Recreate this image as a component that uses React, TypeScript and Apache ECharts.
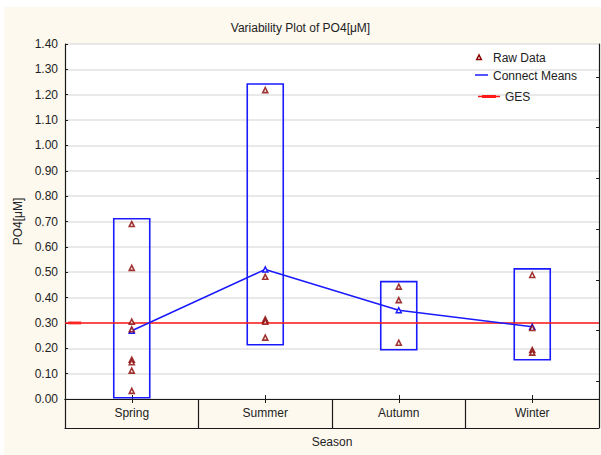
import React, { useEffect, useRef } from "react";
import * as echarts from "echarts";

const seasons = ["Spring", "Summer", "Autumn", "Winter"];
const springRaw = [0.69, 0.517, 0.305, 0.275, 0.155, 0.145, 0.112, 0.032];
const summerRaw = [1.218, 0.482, 0.314, 0.305, 0.242];
const autumnRaw = [0.443, 0.39, 0.222];
const winterRaw = [0.489, 0.28, 0.193, 0.183];
const seasonMeans = [0.269, 0.511, 0.35, 0.285];
const boxLow = [0.005, 0.214, 0.194, 0.155];
const boxHigh = [0.711, 1.242, 0.463, 0.513];
const gesValue = 0.3;
const rightTickValues = [0.07, 0.27, 0.47, 0.67, 0.87, 1.07, 1.27];

const FONT = 'Arial, "Liberation Sans", sans-serif';
const TXT = "#222";
const BLUE = "#1a1aff";
const RED = "#ff1a1a";
const DARKRED = "#8b0000";
const AXIS = "#1a1a1a";

export default function App() {
  const ref = useRef<HTMLDivElement>(null);
  useEffect(() => {
    if (!ref.current) return;
    const chart = echarts.init(ref.current, null, { renderer: "svg" });
    const raw = [springRaw, summerRaw, autumnRaw, winterRaw];
    const rawPts = raw.flatMap((arr, i) => arr.map((v) => [i, v]));
    const boxData = seasons.map((_, i) => [i, boxLow[i], boxHigh[i]]);

    chart.setOption({
      animation: false,
      title: {
        text: "Variability Plot of PO4[μM]",
        left: "center",
        top: 17,
        textStyle: { fontSize: 12, fontWeight: "normal", color: TXT, fontFamily: FONT },
      },
      grid: {
        left: 65,
        top: 44,
        right: 2,
        bottom: 56,
        show: true,
        backgroundColor: "#ffffff",
        borderWidth: 0,
      },
      xAxis: [
        {
          type: "category",
          data: seasons,
          position: "bottom",
          axisLine: { show: true, lineStyle: { color: AXIS, width: 1.2 } },
          axisTick: { show: true, alignWithLabel: false, interval: 0, length: 29, lineStyle: { color: AXIS, width: 1.2 } },
          axisLabel: { fontSize: 12, color: TXT, fontFamily: FONT, margin: 8 },
          splitLine: { show: false },
          name: "Season",
          nameLocation: "middle",
          nameGap: 37,
          nameTextStyle: { fontSize: 12, color: TXT, fontFamily: FONT },
        },
        {
          type: "category",
          data: seasons,
          position: "top",
          axisLine: { show: true, lineStyle: { color: AXIS, width: 1.2 } },
          axisTick: { show: true, alignWithLabel: true, inside: true, length: 4, lineStyle: { color: AXIS } },
          axisLabel: { show: false },
        },
        {
          type: "category",
          data: seasons,
          position: "bottom",
          axisLine: { show: false },
          axisTick: { show: true, alignWithLabel: true, inside: true, length: 4, lineStyle: { color: AXIS } },
          axisLabel: { show: false },
        },
        {
          type: "category",
          data: seasons,
          position: "bottom",
          offset: 29,
          axisLine: { show: true, lineStyle: { color: AXIS, width: 1.2 } },
          axisTick: { show: false },
          axisLabel: { show: false },
        },
        { type: "value", min: 0, max: 1, show: false },
      ],
      yAxis: [
        {
          type: "value",
          min: 0,
          max: 1.4,
          interval: 0.1,
          position: "left",
          axisLine: { show: true, lineStyle: { color: AXIS, width: 1.2 } },
          axisTick: { show: true, inside: true, length: 3, lineStyle: { color: AXIS } },
          axisLabel: {
            fontSize: 12,
            color: TXT,
            fontFamily: FONT,
            margin: 7,
            formatter: (v: number) => v.toFixed(2),
          },
          splitLine: { show: true, lineStyle: { color: "#e2e2e2", width: 1.5 } },
          name: "PO4[μM]",
          nameLocation: "middle",
          nameGap: 34,
          nameTextStyle: { fontSize: 12, color: TXT, fontFamily: FONT },
        },
        {
          type: "value",
          min: 0,
          max: 1.4,
          position: "right",
          axisLine: { show: true, lineStyle: { color: AXIS, width: 1.2 } },
          axisTick: { show: true, inside: true, length: 3, customValues: rightTickValues, lineStyle: { color: AXIS } },
          axisLabel: { show: false },
          splitLine: { show: false },
        },
      ],
      series: [
        {
          type: "custom",
          xAxisIndex: 0,
          yAxisIndex: 0,
          encode: { x: 0, y: [1, 2] },
          data: boxData,
          z: 2,
          renderItem: (params: any, api: any) => {
            const i = api.value(0);
            const top = api.coord([i, api.value(2)]);
            const bot = api.coord([i, api.value(1)]);
            return {
              type: "rect",
              shape: { x: top[0] - 18, y: top[1], width: 36, height: bot[1] - top[1] },
              style: { fill: "none", stroke: BLUE, lineWidth: 1.6 },
            };
          },
        },
        {
          type: "line",
          xAxisIndex: 4,
          yAxisIndex: 0,
          data: [
            [0, gesValue],
            [1, gesValue],
          ],
          symbol: "none",
          lineStyle: { color: RED, width: 1.5 },
          z: 3,
        },
        {
          type: "scatter",
          xAxisIndex: 4,
          yAxisIndex: 0,
          data: [[0.018, gesValue]],
          symbol: "rect",
          symbolSize: [13, 3],
          itemStyle: { color: RED },
          z: 3,
        },
        {
          type: "line",
          xAxisIndex: 0,
          yAxisIndex: 0,
          data: seasonMeans,
          symbol: "triangle",
          symbolSize: 5,
          showSymbol: true,
          lineStyle: { color: BLUE, width: 1.5 },
          itemStyle: { color: "#ffffff", borderColor: BLUE, borderWidth: 1.5 },
          z: 4,
        },
        {
          type: "scatter",
          xAxisIndex: 0,
          yAxisIndex: 0,
          data: rawPts,
          symbol: "triangle",
          symbolSize: 5,
          itemStyle: { color: "#ffffff", borderColor: DARKRED, borderWidth: 1.6 },
          z: 5,
        },
      ],
      graphic: [
        {
          type: "polygon",
          shape: { points: [[479, 55], [476.7, 59.5], [481.3, 59.5]] },
          style: { fill: "#ffffff", stroke: DARKRED, lineWidth: 1.5 },
          z: 10,
        },
        {
          type: "text",
          x: 493,
          y: 57.5,
          style: { text: "Raw Data", fontSize: 12, fontFamily: FONT, fill: TXT, verticalAlign: "middle" },
          z: 10,
        },
        {
          type: "line",
          shape: { x1: 475, y1: 75, x2: 488, y2: 75 },
          style: { stroke: BLUE, lineWidth: 1.5 },
          z: 10,
        },
        {
          type: "text",
          x: 493,
          y: 75.5,
          style: { text: "Connect Means", fontSize: 12, fontFamily: FONT, fill: TXT, verticalAlign: "middle" },
          z: 10,
        },
        {
          type: "line",
          shape: { x1: 478, y1: 96.5, x2: 500, y2: 96.5 },
          style: { stroke: RED, lineWidth: 1.5 },
          z: 10,
        },
        {
          type: "rect",
          shape: { x: 482, y: 95, width: 14, height: 3 },
          style: { fill: RED },
          z: 10,
        },
        {
          type: "text",
          x: 505,
          y: 97,
          style: { text: "GES", fontSize: 12, fontFamily: FONT, fill: TXT, verticalAlign: "middle" },
          z: 10,
        },
      ],
    });
    return () => chart.dispose();
  }, []);

  return (
    <div style={{ position: "absolute", left: 0, top: 0, width: 601, height: 455, background: "#ffffff" }}>
      <div style={{ position: "absolute", left: 4, top: 7, width: 597, height: 448, background: "#fdf9ef" }} />
      <div ref={ref} style={{ position: "absolute", left: 0, top: 0, width: 601, height: 455 }} />
    </div>
  );
}
